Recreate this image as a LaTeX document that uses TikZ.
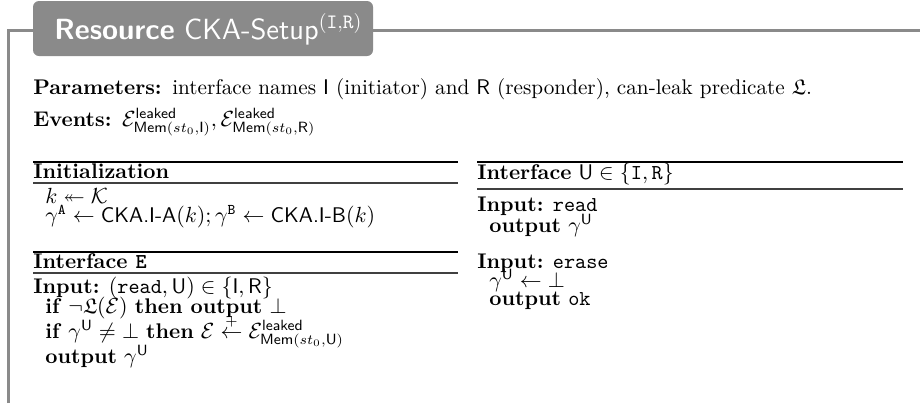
\documentclass[tikz,border=0pt]{standalone}
\usepackage{amsmath,amssymb}
\usetikzlibrary{positioning}

\definecolor{framegray}{RGB}{138,138,138}
\newcommand{\sfn}[1]{\textsf{#1}}
\newcommand{\leakev}[1]{\mathcal{E}^{\sfn{leaked}}_{\sfn{Mem}(st_0,#1)}}

\tikzset{
    line/.style={anchor=base west, inner sep=0pt, font=\fontsize{10.6}{12.7}\selectfont},
    toprule/.style={line width=1pt, black},
    midrule/.style={line width=0.6pt, black!75}
}

\begin{document}
\begin{tikzpicture}[x=0.5pt, y=-0.5pt]
    \useasboundingbox (0,0) rectangle (920,403);

    % frame and title
    \draw[framegray, line width=1.5pt] (8.5,403) -- (8.5,30) -- (920,30);
    \fill[framegray, rounded corners=3pt] (33,1) rectangle (373,56);
    \node[line, white, font=\fontsize{14.6}{17}\selectfont\sffamily] (title) at (54,39)
        {\textbf{Resource} CKA-Setup$^{(\texttt{I},\texttt{R})}$};

    \begin{scope}[every node/.style={line}]
        \node (par) at (33,94) {\textbf{Parameters:}\enspace interface names \sfn{I} (initiator) and \sfn{R} (responder), can-leak predicate $\mathfrak{L}$.};
        \node (ev) at (33,126) {\textbf{Events:}\enspace $\leakev{\sfn{I}}, \leakev{\sfn{R}}$};

        % left column
        \node (init) at (33,178) {\textbf{Initialization}};
        \node (i1) at (45,203) {$k \twoheadleftarrow \mathcal{K}$};
        \node (i2) at (45,222) {$\gamma^{\texttt{A}} \leftarrow \sfn{CKA.I-A}(k); \gamma^{\texttt{B}} \leftarrow \sfn{CKA.I-B}(k)$};

        \node (ifE) at (33,268) {\textbf{Interface \texttt{E}}};
        \node (e1) at (33,293) {\textbf{Input:} $(\texttt{read}, \sfn{U}) \in \{\sfn{I}, \sfn{R}\}$};
        \node (e2) at (45,313) {\textbf{if} $\neg\mathfrak{L}(\mathcal{E})$ \textbf{then output} $\bot$};
        \node (e3) at (45,338) {\textbf{if} $\gamma^{\sfn{U}} \neq \bot$ \textbf{then} $\mathcal{E} \overset{+}{\leftarrow} \leakev{\sfn{U}}$};
        \node (e4) at (45,363) {\textbf{output} $\gamma^{\sfn{U}}$};

        % right column
        \node (ifU) at (477,179) {\textbf{Interface} $\sfn{U} \in \{\texttt{I}, \texttt{R}\}$};
        \node (r1) at (477,211) {\textbf{Input:} \texttt{read}};
        \node (r2) at (489,232) {\textbf{output} $\gamma^{\sfn{U}}$};
        \node (r3) at (477,268) {\textbf{Input:} \texttt{erase}};
        \node (r4) at (489,287) {$\gamma^{\sfn{U}} \leftarrow \bot$};
        \node (r5) at (489,305) {\textbf{output} \texttt{ok}};
    \end{scope}

    \draw[toprule] (33,162) -- (458,162);
    \draw[midrule] (33,183) -- (458,183);
    \draw[toprule] (33,252) -- (458,252);
    \draw[midrule] (33,273) -- (458,273);
    \draw[toprule] (477,162) -- (903,162);
    \draw[midrule] (477,189) -- (903,189);
\end{tikzpicture}
\end{document}
